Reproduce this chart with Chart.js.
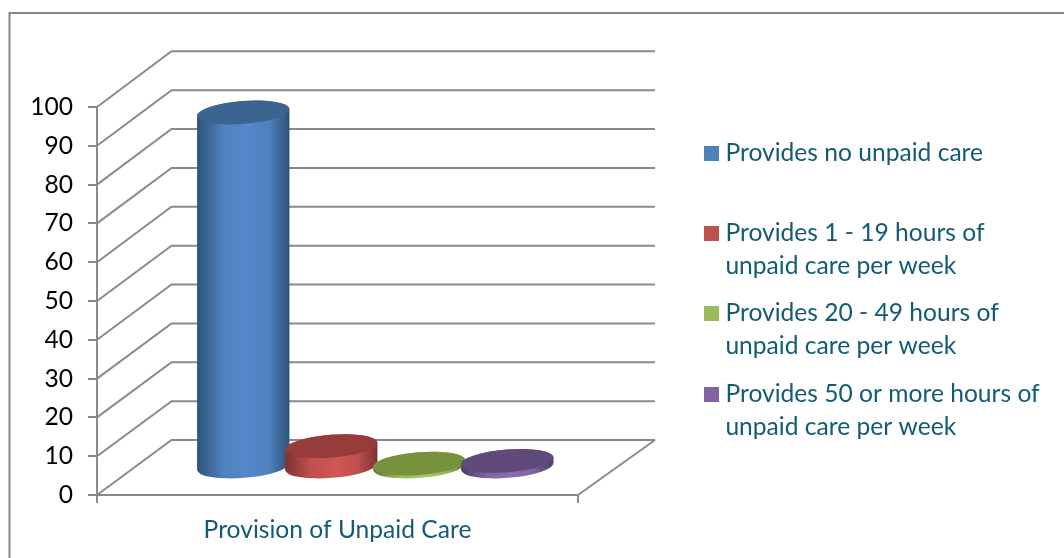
<!DOCTYPE html>
<html><head><meta charset="utf-8">
<style>html,body{margin:0;padding:0;background:#fff}canvas{display:block}</style>
<script src="https://cdn.jsdelivr.net/npm/chart.js@4"></script>
</head><body>
<div style="width:1064px;height:558px"><canvas id="c" width="1064" height="558"></canvas></div>
<script>
const categories = ['Provision of Unpaid Care'];
const seriesNames = ['Provides no unpaid care','Provides 1 - 19 hours of unpaid care per week','Provides 20 - 49 hours of unpaid care per week','Provides 50 or more hours of unpaid care per week'];
const legendLines = [['Provides no unpaid care'],['Provides 1 - 19 hours of','unpaid care per week'],['Provides 20 - 49 hours of','unpaid care per week'],['Provides 50 or more hours of','unpaid care per week']];
const noCare = [91.5];
const care1to19 = [5.5];
const care20to49 = [1.0];
const care50plus = [1.7];
const seriesValues = [noCare, care1to19, care20to49, care50plus];
const colors = ['#4f81bd','#c0504d','#9bbb59','#8064a2'];
const topColors = ['#3c6490','#963c3a','#76923c','#604a7b'];
const edgeColors = ['#2c5278','#7e3230','#5f7a30','#4f3b68'];
const midColors = ['#5488ca','#d05651','#a5c75f','#8a6cae'];

const TEAL = '#125a75', GRID = '#8a8a8a';
const FONT = 'Lato, Carlito, sans-serif';
const DEPTH_X = 74.5;
const TILT = -4.4 * Math.PI / 180;

const chart3d = {
  id: 'chart3d',
  beforeDatasetsDraw(chart) {
    const ctx = chart.ctx, ys = chart.scales.y, xs = chart.scales.x;
    const L = xs.left, R = xs.right;
    ctx.save();
    // outer frame
    ctx.strokeStyle = '#868686'; ctx.lineWidth = 2;
    ctx.beginPath(); ctx.moveTo(9.5, 558); ctx.lineTo(9.5, 13); ctx.lineTo(1064, 13); ctx.stroke();
    // side wall and back wall gridlines
    ctx.strokeStyle = GRID; ctx.lineWidth = 2;
    ys.ticks.forEach(t => {
      const y = ys.getPixelForValue(t.value);
      const d = 55 + t.value * 0.007;
      ctx.beginPath(); ctx.moveTo(L, y); ctx.lineTo(L + DEPTH_X, y - d); ctx.lineTo(R + 77, y - d); ctx.stroke();
    });
    const y0 = ys.getPixelForValue(0);
    ctx.beginPath(); ctx.moveTo(R, y0); ctx.lineTo(R + 77, y0 - 55); ctx.stroke();
    // cylinders, positioned from the bar elements the library laid out
    seriesValues.forEach((_, i) => {
      const bar = chart.getDatasetMeta(i).data[0];
      const cx = bar.x + 37.8, rx = 46.3, ry = 11.4;
      const topY = bar.y - 27.5, botY = bar.base - 27.5;
      const g = ctx.createLinearGradient(cx - rx, 0, cx + rx, 0);
      g.addColorStop(0, edgeColors[i]);
      g.addColorStop(0.28, colors[i]);
      g.addColorStop(0.55, midColors[i]);
      g.addColorStop(0.78, colors[i]);
      g.addColorStop(1, edgeColors[i]);
      ctx.fillStyle = g;
      ctx.beginPath();
      ctx.ellipse(cx, botY, rx, ry, TILT, 0, Math.PI, false);
      ctx.ellipse(cx, topY, rx, ry, TILT, Math.PI, 2 * Math.PI, false);
      ctx.closePath(); ctx.fill();
      ctx.fillStyle = topColors[i];
      ctx.beginPath(); ctx.ellipse(cx, topY, rx, ry, TILT, 0, 2 * Math.PI); ctx.fill();
    });
    // legend
    const baselines = [[161.4],[241.4,274],[321.4,354],[402.4,435]];
    const boxes = [146,226,306,387];
    ctx.font = '24.6px ' + FONT; ctx.textAlign = 'left'; ctx.textBaseline = 'alphabetic';
    legendLines.forEach((lines, i) => {
      ctx.fillStyle = colors[i]; ctx.fillRect(704, boxes[i], 15, 15);
      ctx.fillStyle = TEAL;
      lines.forEach((s, j) => ctx.fillText(s, 725.4, baselines[i][j]));
    });
    ctx.restore();
  },
  beforeDatasetDraw() { return false; }
};

new Chart(document.getElementById('c'), {
  type: 'bar',
  data: {
    labels: categories,
    datasets: seriesValues.map((v, i) => ({ label: seriesNames[i], data: v, backgroundColor: colors[i], barPercentage: 1, categoryPercentage: 0.732 }))
  },
  options: {
    responsive: false, animation: false,
    layout: { padding: { top: 107, right: 486, left: 0, bottom: 0 } },
    plugins: { legend: { display: false }, tooltip: { enabled: false }, title: { display: false } },
    scales: {
      y: {
        min: 0, max: 100,
        afterFit(s) { s.width = 97; },
        ticks: { stepSize: 10, color: '#000', font: { family: FONT, size: 24.6 }, padding: 15 },
        grid: { drawOnChartArea: false, color: GRID, tickLength: 9, lineWidth: 2 },
        border: { color: GRID, width: 2 }
      },
      x: {
        afterFit(s) { s.height = 63; },
        ticks: { color: TEAL, font: { family: FONT, size: 24.6 }, padding: 12, maxRotation: 0 },
        grid: { drawOnChartArea: false, color: GRID, tickLength: 8, lineWidth: 2 },
        border: { color: GRID, width: 2 }
      }
    }
  },
  plugins: [chart3d]
});
</script>
</body></html>
